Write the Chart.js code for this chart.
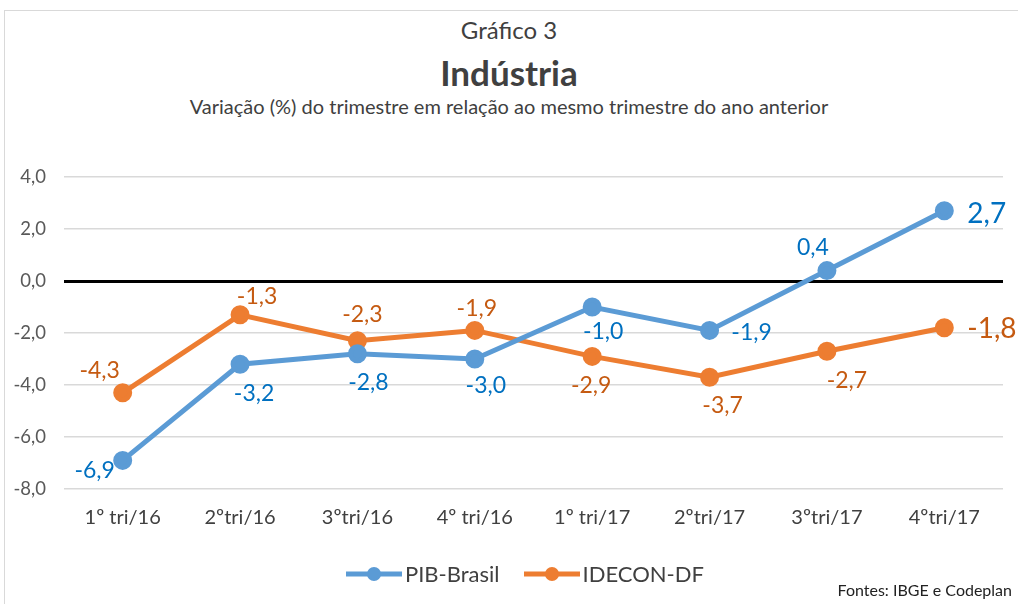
<!DOCTYPE html>
<html>
<head>
<meta charset="utf-8">
<script src="https://cdn.jsdelivr.net/npm/chart.js@4"></script>
<style>
    html, body { margin: 0; padding: 0; background: #fff; }
    body { width: 1018px; height: 604px; position: relative; overflow: hidden; font-family: Lato, 'Open Sans', sans-serif; }
    #frame { position: absolute; left: 4px; top: 10px; right: -3px; bottom: -3px; border: 1px solid #d9d9d9; }
    #chart { position: absolute; left: 0; top: 0; }
    .t { position: absolute; left: 0; width: 1018px; text-align: center; color: #404040; }
    #legend { position: absolute; top: 560px; left: 346px; display: flex; font-size: 22px; color: #404040; }
    #legend .item { display: flex; align-items: center; margin-right: 24px; }
    #source { position: absolute; right: 6px; top: 580px; font-size: 16px; color: #222; }
</style>
</head>
<body>
<div id="frame"></div>
<div class="t" style="top:15px;font-size:24px;">Gráfico 3</div>
<div class="t" style="top:51px;font-size:35px;font-weight:bold;">Indústria</div>
<div class="t" style="top:94px;font-size:20px;">Variação (%) do trimestre em relação ao mesmo trimestre do ano anterior</div>
<canvas id="chart" width="1018" height="604"></canvas>
<div id="legend"></div>
<div id="source">Fontes: IBGE e Codeplan</div>
<script>
    var categories = ['1º tri/16', '2ºtri/16', '3ºtri/16', '4º tri/16', '1º tri/17', '2ºtri/17', '3ºtri/17', '4ºtri/17'];
    var pibBrasil = [-6.9, -3.2, -2.8, -3.0, -1.0, -1.9, 0.4, 2.7];
    var ideconDF = [-4.3, -1.3, -2.3, -1.9, -2.9, -3.7, -2.7, -1.8];
    var yTicks = [-8, -6, -4, -2, 0, 2, 4];

    // label placement relative to each point: [dx, dy]
    var pibLabelPos = [[-28, 10], [14, 29], [11, 29], [11, 27], [11, 25], [42, 2], [-14, -23], [23, 3]];
    var ideconLabelPos = [[-23, -22], [17, -18], [5, -26], [2, -22], [-1, 29], [13, 28], [20, 29], [23, 1]];

    function fmt(v) { return v.toFixed(1).replace('.', ','); }

    var labelPlugin = {
        id: 'valueLabels',
        afterDatasetsDraw: function (chart) {
            var ctx = chart.ctx;
            chart.data.datasets.forEach(function (ds, i) {
                var meta = chart.getDatasetMeta(i);
                meta.data.forEach(function (pt, j) {
                    var off = ds.labelPos[j];
                    var last = j === ds.data.length - 1;
                    ctx.save();
                    ctx.fillStyle = ds.labelColor;
                    ctx.font = (last ? '28px' : '23px') + ' Lato, "Open Sans", sans-serif';
                    ctx.textAlign = last ? 'left' : 'center';
                    ctx.textBaseline = 'middle';
                    ctx.fillText(fmt(ds.data[j]), pt.x + off[0], pt.y + off[1]);
                    ctx.restore();
                });
            });
        }
    };

    var ctx = document.getElementById('chart').getContext('2d');
    var chart = new Chart(ctx, {
        type: 'line',
        data: {
            labels: categories,
            datasets: [
                { label: 'PIB-Brasil', data: pibBrasil, borderColor: '#5b9bd5', backgroundColor: '#5b9bd5', borderWidth: 5, pointRadius: 7, pointHoverRadius: 7, tension: 0, labelColor: '#0070c0', labelPos: pibLabelPos },
                { label: 'IDECON-DF', data: ideconDF, borderColor: '#ed7d31', backgroundColor: '#ed7d31', borderWidth: 5, pointRadius: 7, pointHoverRadius: 7, tension: 0, labelColor: '#c55a11', labelPos: ideconLabelPos }
            ]
        },
        options: {
            responsive: false,
            animation: false,
            layout: { padding: { left: 4, right: 15, top: 177, bottom: 65 } },
            plugins: { legend: { display: false }, title: { display: false }, tooltip: { enabled: false } },
            scales: {
                x: {
                    offset: true,
                    grid: { display: false, drawTicks: false, offset: true },
                    border: { display: false },
                    ticks: { color: '#404040', font: { family: 'Lato, "Open Sans", sans-serif', size: 20 }, padding: 17, maxRotation: 0 },
                    afterFit: function (s) { s.height = 50; }
                },
                y: {
                    min: -8, max: 4,
                    afterBuildTicks: function (s) { s.ticks = yTicks.map(function (v) { return { value: v }; }); },
                    grid: {
                        drawTicks: false,
                        color: function (c) { return c.tick && c.tick.value === 0 ? '#000' : '#d9d9d9'; },
                        lineWidth: function (c) { return c.tick && c.tick.value === 0 ? 3 : 1.5; }
                    },
                    border: { display: false },
                    ticks: { color: '#595959', font: { family: 'Lato, "Open Sans", sans-serif', size: 18.5 }, padding: 18, callback: function (v) { return fmt(v); } },
                    afterFit: function (s) { s.width = 60; }
                }
            }
        },
        plugins: [labelPlugin]
    });

    var legend = document.getElementById('legend');
    chart.data.datasets.forEach(function (ds) {
        var item = document.createElement('div');
        item.className = 'item';
        item.innerHTML = '<svg width="56" height="16" style="margin-right:3px"><line x1="0" y1="8" x2="56" y2="8" stroke="' + ds.borderColor + '" stroke-width="5"/><circle cx="28" cy="8" r="7" fill="' + ds.borderColor + '"/></svg>';
        var span = document.createElement('span');
        span.textContent = ds.label;
        item.appendChild(span);
        legend.appendChild(item);
    });
</script>
</body>
</html>
